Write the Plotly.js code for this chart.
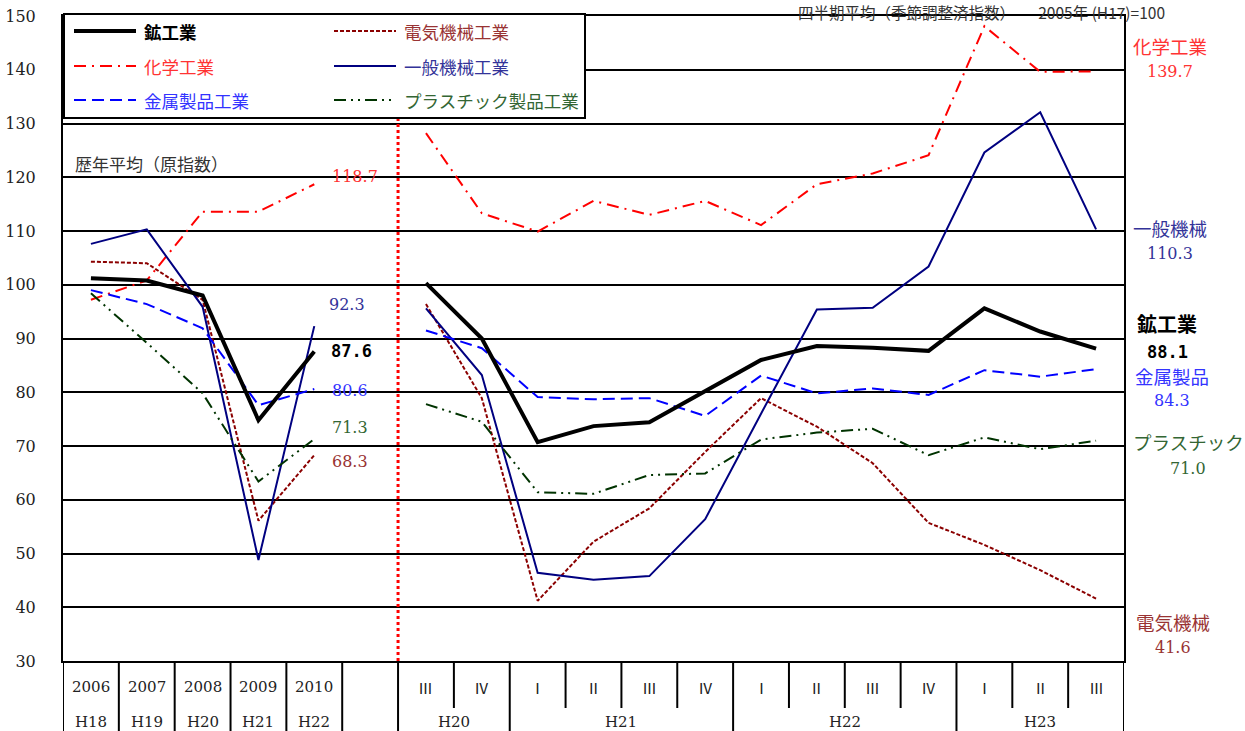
<!DOCTYPE html>
<html>
<head>
<meta charset="utf-8">
<script src="https://cdn.plot.ly/plotly-3.0.1.min.js"></script>
<style>html,body{margin:0;padding:0;background:#fff;}#chart{width:1245px;height:731px;}</style>
</head>
<body>
<div id="chart"></div>
<script>
// ---------- categories ----------
const yearLabels = ['2006', '2007', '2008', '2009', '2010'];
const yearEras = ['H18', 'H19', 'H20', 'H21', 'H22'];
const quarterEras = ['H20', 'H21', 'H22', 'H23'];
const quarterCounts = [2, 4, 4, 3];
const quarterLabels = ['Ⅲ', 'Ⅳ', 'Ⅰ', 'Ⅱ', 'Ⅲ', 'Ⅳ', 'Ⅰ', 'Ⅱ', 'Ⅲ', 'Ⅳ', 'Ⅰ', 'Ⅱ', 'Ⅲ'];

// ---------- series (annual = 歴年平均, quarterly = 四半期平均) ----------
const seriesNames = ['鉱工業', '電気機械工業', '化学工業', '一般機械工業', '金属製品工業', 'プラスチック製品工業'];
const miningAnnual = [101.2, 100.8, 98.0, 74.8, 87.6];
const miningQuarter = [100.3, 90.0, 70.7, 73.7, 74.4, 80.3, 86.0, 88.6, 88.3, 87.7, 95.6, 91.3, 88.1];
const elecAnnual = [104.3, 104.0, 97.2, 56.1, 68.3];
const elecQuarter = [96.4, 78.9, 41.2, 52.2, 58.4, 68.9, 78.9, 73.6, 66.8, 55.7, 51.6, 46.9, 41.6];
const chemAnnual = [97.2, 100.8, 113.6, 113.6, 118.7];
const chemQuarter = [128.2, 113.3, 109.9, 115.6, 113.0, 115.6, 111.1, 118.7, 120.7, 124.1, 148.1, 139.6, 139.7];
const genAnnual = [107.6, 110.3, 95.9, 48.8, 92.3];
const genQuarter = [95.6, 83.2, 46.4, 45.1, 45.8, 56.4, 76.0, 95.4, 95.7, 103.4, 124.6, 132.1, 110.3];
const metalAnnual = [99.0, 96.4, 91.9, 77.6, 80.6];
const metalQuarter = [91.5, 88.2, 79.1, 78.7, 78.9, 75.6, 83.1, 79.8, 80.7, 79.5, 84.1, 82.9, 84.3];
const plasticAnnual = [98.4, 89.2, 79.8, 63.4, 71.3];
const plasticQuarter = [77.8, 74.5, 61.4, 61.1, 64.6, 64.9, 71.2, 72.5, 73.2, 68.3, 71.6, 69.4, 71.0];

// ---------- build category ids ----------
const gapId = ' ';
const quarterIds = [];
const quarterGroupOf = [];
let qi = 0;
quarterEras.forEach((era, g) => {
  for (let k = 0; k < quarterCounts[g]; k++) {
    quarterIds.push(era + quarterLabels[qi]);
    quarterGroupOf.push(g);
    qi++;
  }
});
const allCats = yearLabels.concat([gapId], quarterIds);
const N = allCats.length;

// ---------- page geometry helpers (decorations only) ----------
const W = 1245, H = 731;
const M = {l: 63, r: 121, t: 16, b: 70};
const PW = W - M.l - M.r, PH = H - M.t - M.b;
const X = p => (p - M.l) / PW;
const Y = p => (H - M.b - p) / PH;

const SERIF = 'DejaVu Serif, Noto Sans CJK JP, serif';
const JP = 'Noto Sans CJK JP, sans-serif';

// ---------- styles ----------
const styles = [
  {color: '#000000', width: 4, dash: 'solid', label: '#000000'},
  {color: '#8B0000', width: 2, dash: '4px,2px', label: '#993333'},
  {color: '#FF0000', width: 2, dash: '12px,6px,2px,6px', label: '#FF3333'},
  {color: '#000080', width: 2, dash: 'solid', label: '#333399'},
  {color: '#0000FF', width: 2, dash: '12px,6px', label: '#3333FF'},
  {color: '#003300', width: 2, dash: '12px,5px,2px,5px,2px,5px', label: '#336633'}
];
const annualData = [miningAnnual, elecAnnual, chemAnnual, genAnnual, metalAnnual, plasticAnnual];
const quarterData = [miningQuarter, elecQuarter, chemQuarter, genQuarter, metalQuarter, plasticQuarter];

// draw order: thinner lines first, mining on top
const order = [1, 2, 3, 4, 5, 0];
const traces = [];
order.forEach(i => {
  traces.push({
    type: 'scatter', mode: 'lines', name: seriesNames[i], showlegend: false,
    x: allCats,
    y: annualData[i].concat([null], quarterData[i]),
    connectgaps: false,
    line: {color: styles[i].color, width: styles[i].width, dash: styles[i].dash},
    hoverinfo: 'skip'
  });
});

// ---------- shapes ----------
const shapes = [];
// red dotted separator between annual and quarterly parts
shapes.push({type: 'line', xref: 'x', yref: 'paper', x0: 5.5, x1: 5.5, y0: 0, y1: 1,
  line: {color: '#FF0000', width: 3, dash: 'dot'}, layer: 'above'});
// category table vertical lines
for (let b = 0; b <= N; b++) {
  const xb = b - 0.5;
  let full = true;
  if (b > 6 && b < N) {
    const left = b - 1 - 6, right = b - 6;
    if (quarterGroupOf[left] === quarterGroupOf[right]) full = false;
  }
  shapes.push({type: 'line', xref: 'x', yref: 'paper', x0: xb, x1: xb,
    y0: 0, y1: full ? Y(740) : Y(708), line: {color: '#000', width: 2}, layer: 'above'});
}
// legend box
shapes.push({type: 'rect', xref: 'paper', yref: 'paper', x0: X(64), x1: X(585), y0: Y(118), y1: Y(14),
  fillcolor: '#fff', line: {color: '#000', width: 2}, layer: 'above'});

// ---------- annotations ----------
const ann = [];
const legPos = [[74, 31], [334, 31], [74, 66], [334, 66], [74, 100], [334, 100]];
[0, 1, 2, 3, 4, 5].forEach((si, k) => {
  const [lx, ly] = legPos[k];
  shapes.push({type: 'line', xref: 'paper', yref: 'paper', x0: X(lx), x1: X(lx + 62), y0: Y(ly), y1: Y(ly),
    line: {color: styles[si].color, width: styles[si].width, dash: styles[si].dash}, layer: 'above'});
  ann.push({xref: 'paper', yref: 'paper', x: X(lx + 68), y: Y(ly), xanchor: 'left', yanchor: 'middle',
    text: si === 0 ? '<b>' + seriesNames[si] + '</b>' : seriesNames[si], showarrow: false,
    font: {family: JP, size: 17.5, color: styles[si].label}});
});

// header
ann.push({xref: 'paper', yref: 'paper', x: X(1166), y: Y(0), xanchor: 'right', yanchor: 'top',
  text: '四半期平均（季節調整済指数）　　2005年 (H17)=100', showarrow: false, borderpad: 0,
  font: {family: JP, size: 15.5, color: '#333'}});
ann.push({xref: 'paper', yref: 'paper', x: X(73), y: Y(163), xanchor: 'left', yanchor: 'middle',
  text: '歴年平均（原指数）', showarrow: false, font: {family: JP, size: 17, color: '#333'}});

// annual end labels
const fmt = v => v.toFixed(1);
const annualLabelPos = {2: [355, 177], 3: [347, 304], 0: [351, 351], 4: [350, 390], 5: [350, 428], 1: [350, 461]};
Object.keys(annualLabelPos).forEach(k => {
  const i = +k, [lx, ly] = annualLabelPos[k];
  const v = annualData[i][annualData[i].length - 1];
  ann.push({xref: 'paper', yref: 'paper', x: X(lx), y: Y(ly), xanchor: 'center', yanchor: 'middle',
    text: i === 0 ? '<b>' + fmt(v) + '</b>' : fmt(v), showarrow: false,
    font: {family: i === 0 ? 'DejaVu Sans Mono, monospace' : SERIF, size: i === 0 ? 17 : 16, color: styles[i].label}});
});

// right-side labels (short names + latest quarterly value)
const shortNames = ['鉱工業', '電気機械', '化学工業', '一般機械', '金属製品', 'プラスチック'];
const rightPos = {2: [1170, 46, 71], 3: [1170, 228, 254], 0: [1167, 323, 352], 4: [1172, 376, 401], 5: [1188, 442, 468], 1: [1173, 622, 647]};
Object.keys(rightPos).forEach(k => {
  const i = +k, [cx, y1, y2] = rightPos[k];
  const v = quarterData[i][quarterData[i].length - 1];
  ann.push({xref: 'paper', yref: 'paper', x: X(cx), y: Y(y1), xanchor: 'center', yanchor: 'middle',
    text: i === 0 ? '<b>' + shortNames[i] + '</b>' : shortNames[i], showarrow: false,
    font: {family: JP, size: i === 0 ? 20 : 18.5, color: styles[i].label}});
  ann.push({xref: 'paper', yref: 'paper', x: X(cx), y: Y(y2), xanchor: 'center', yanchor: 'middle',
    text: i === 0 ? '<b>' + fmt(v) + '</b>' : fmt(v), showarrow: false,
    font: {family: i === 0 ? 'DejaVu Sans Mono, monospace' : SERIF, size: i === 0 ? 17 : 16, color: styles[i].label}});
});

// category table: row 1 labels
const row1 = yearLabels.concat([''], quarterLabels);
row1.forEach((t, i) => {
  if (!t) return;
  ann.push({xref: 'x', yref: 'paper', x: i, y: Y(687), xanchor: 'center', yanchor: 'middle',
    text: t, showarrow: false, font: {family: i < 5 ? SERIF : JP, size: 15, color: '#222'}});
});
// row 2: era labels
yearEras.forEach((t, i) => {
  ann.push({xref: 'x', yref: 'paper', x: i, y: Y(722), xanchor: 'center', yanchor: 'middle',
    text: t, showarrow: false, font: {family: SERIF, size: 15, color: '#222'}});
});
let start = 6;
quarterEras.forEach((era, g) => {
  const n = quarterCounts[g];
  ann.push({xref: 'x', yref: 'paper', x: start + (n - 1) / 2, y: Y(722), xanchor: 'center', yanchor: 'middle',
    text: era, showarrow: false, font: {family: SERIF, size: 15, color: '#222'}});
  start += n;
});

const layout = {
  width: W, height: H,
  margin: M,
  paper_bgcolor: '#fff', plot_bgcolor: '#fff',
  showlegend: false,
  xaxis: {
    type: 'category', categoryorder: 'array', categoryarray: allCats,
    range: [-0.5, N - 0.5], showticklabels: false, ticks: '', showgrid: false,
    showline: true, linecolor: '#000', linewidth: 2, mirror: true, zeroline: false, fixedrange: true
  },
  yaxis: {
    range: [30, 150], dtick: 10, tick0: 30, showgrid: true, gridcolor: '#000', gridwidth: 2,
    showline: true, linecolor: '#000', linewidth: 2, mirror: true, zeroline: false,
    ticks: '', ticklabelstandoff: 22,
    tickfont: {family: SERIF, size: 16, color: '#222'}, fixedrange: true
  },
  shapes: shapes,
  annotations: ann
};

Plotly.newPlot('chart', traces, layout, {displayModeBar: false, staticPlot: true});
</script>
</body>
</html>
